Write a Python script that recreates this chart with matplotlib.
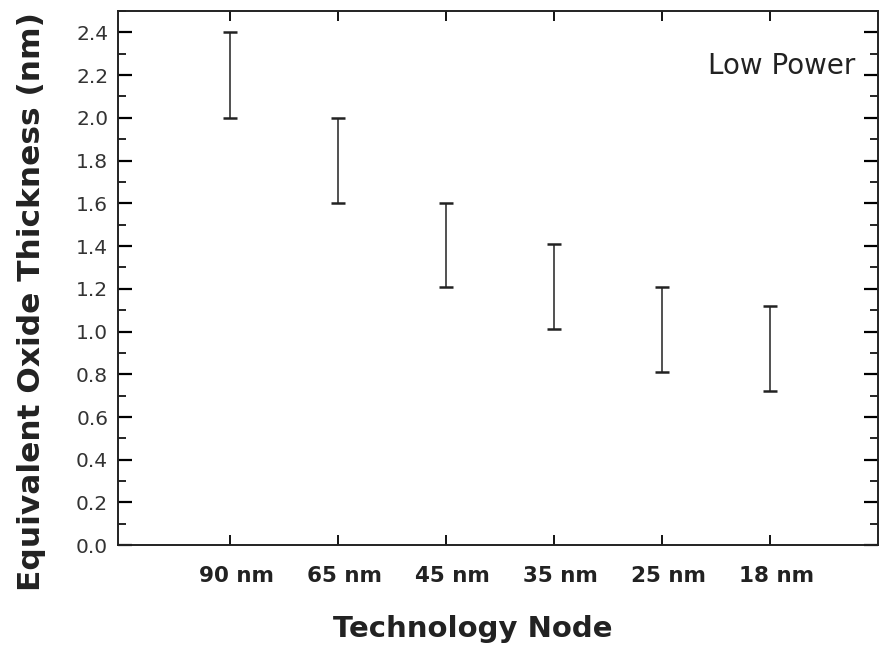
import numpy as np
import matplotlib
matplotlib.use("Agg")
import matplotlib.pyplot as plt
from matplotlib.ticker import MultipleLocator, FormatStrFormatter

# technology nodes and EOT ranges (nm)
nodes = ["90 nm", "65 nm", "45 nm", "35 nm", "25 nm", "18 nm"]
eot_low = [2.00, 1.60, 1.21, 1.01, 0.81, 0.72]
eot_high = [2.40, 2.00, 1.60, 1.41, 1.21, 1.12]

plt.rcParams["font.family"] = ["DejaVu Sans"]

x = np.arange(1, len(nodes) + 1)
lo = np.array(eot_low)
hi = np.array(eot_high)
mid = (lo + hi) / 2
half = (hi - lo) / 2

fig = plt.figure(figsize=(8.8, 6.46), dpi=100)
ax = fig.add_axes([0.134, 0.156, 0.864, 0.827])

ax.errorbar(x, mid, yerr=half, fmt="none", ecolor="#222222", elinewidth=1.1,
            capsize=5, capthick=1.8)

ax.set_xlim(-0.04, 7.0)
ax.set_ylim(0, 2.5)
# tick marks at the nodes; the labels sit a little right of them (minor ticks, no mark)
ax.set_xticks(x)
ax.set_xticklabels([""] * len(nodes))
ax.set_xticks(x + 0.06, minor=True)
ax.set_xticklabels(nodes, minor=True, fontsize=15.5, fontweight="bold", color="#222222")
ax.yaxis.set_major_locator(MultipleLocator(0.2))
ax.yaxis.set_minor_locator(MultipleLocator(0.1))
ax.yaxis.set_major_formatter(FormatStrFormatter("%.1f"))
for lab in ax.get_yticklabels():
    lab.set_fontsize(14.5)
    lab.set_color("#333333")

ax.tick_params(axis="both", which="both", direction="in", top=True, right=True)
ax.tick_params(axis="y", which="major", length=10, width=1.6, pad=7)
ax.tick_params(axis="y", which="minor", length=6, width=1.2)
ax.tick_params(axis="x", which="major", length=7, width=1.3)
ax.tick_params(axis="x", which="minor", length=0, pad=15)
for s in ax.spines.values():
    s.set_linewidth(1.4)
    s.set_color("#222222")

ax.set_xlabel("Technology Node", fontsize=21, fontweight="bold", color="#222222")
ax.xaxis.set_label_coords(0.467, -0.13)
ax.set_ylabel("Equivalent Oxide Thickness (nm)", fontsize=22.5, fontweight="bold",
              color="#222222")
ax.yaxis.set_label_coords(-0.094, 0.457)

ax.text(0.97, 0.897, "Low Power", transform=ax.transAxes, ha="right", va="center",
        fontsize=20, color="#222222")

fig.savefig("out.png", dpi=100)
